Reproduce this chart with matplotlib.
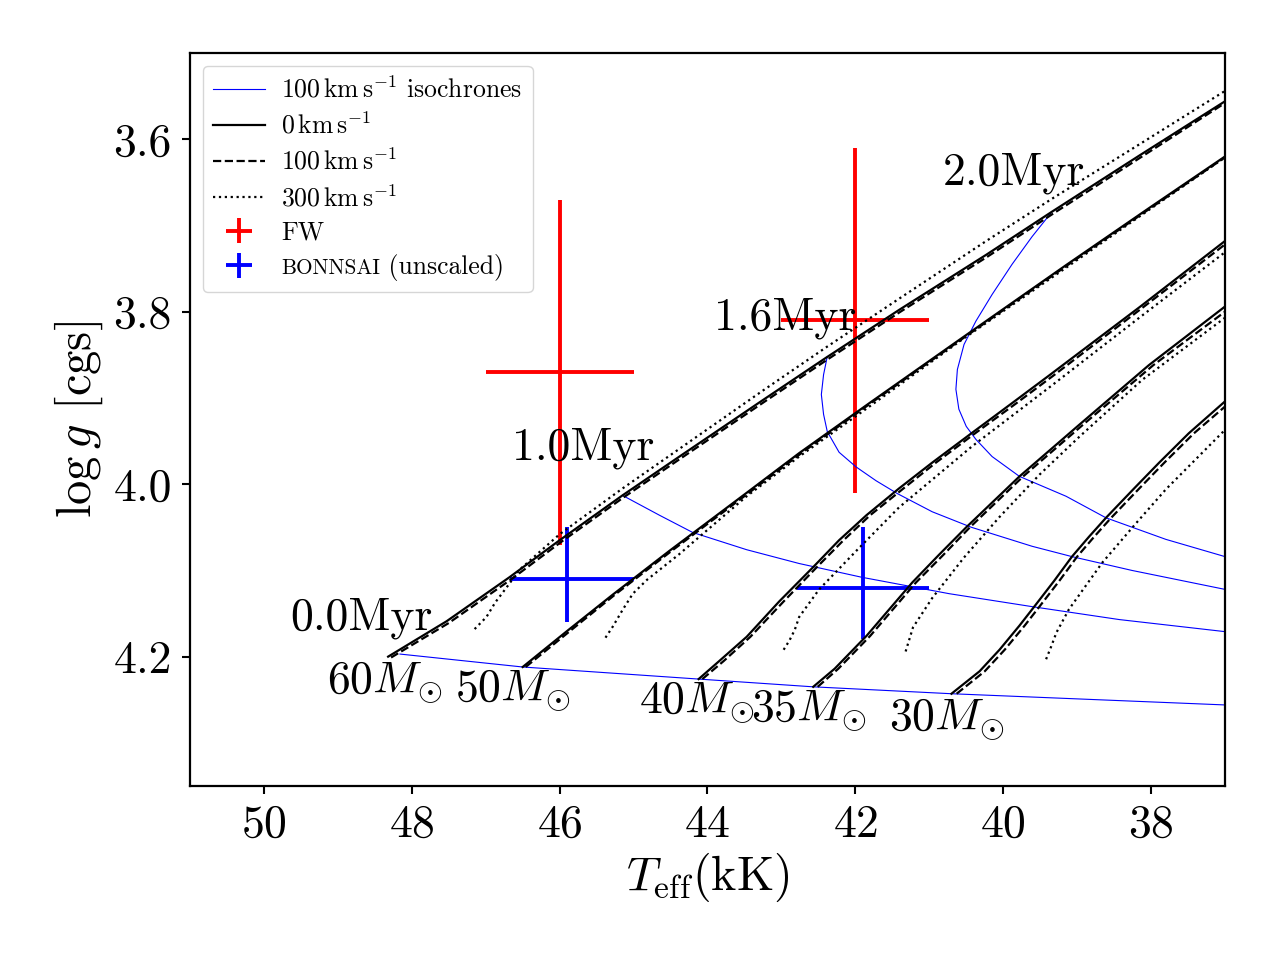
import matplotlib
matplotlib.use("Agg")
import matplotlib.pyplot as plt
from matplotlib.lines import Line2D
from matplotlib.offsetbox import TextArea, HPacker

plt.rcParams['font.family'] = 'serif'
plt.rcParams['font.serif'] = ['cmr10']
plt.rcParams['mathtext.fontset'] = 'cm'
plt.rcParams['axes.formatter.use_mathtext'] = True

# ---------------- data ----------------
# evolutionary tracks (Teff in kK, log g) for 0, 100, 300 km/s
T60_0 = [48.32, 47.53, 46.68, 46.00, 45.15, 44.38, 43.26, 42.39, 41.41, 40.23, 39.34, 38.16, 37.0]
g60_0 = [4.200, 4.159, 4.108, 4.065, 4.013, 3.968, 3.903, 3.853, 3.798, 3.734, 3.684, 3.619, 3.556]
T60_100 = [48.28, 47.50, 46.65, 45.98, 45.13, 44.36, 43.24, 42.37, 41.39, 40.21, 39.32, 38.14, 37.0]
g60_100 = [4.201, 4.161, 4.110, 4.067, 4.015, 3.970, 3.905, 3.855, 3.800, 3.736, 3.686, 3.621, 3.558]
T60_300 = [47.15, 46.99, 46.87, 46.72, 46.54, 46.00, 45.15, 44.38, 43.26, 42.39, 41.41, 40.23, 39.34, 38.16, 37.0]
g60_300 = [4.168, 4.154, 4.137, 4.120, 4.099, 4.058, 4.005, 3.959, 3.892, 3.841, 3.785, 3.718, 3.669, 3.606, 3.544]

T50_0 = [46.50, 45.91, 45.28, 44.51, 43.47, 42.76, 41.81, 40.55, 39.15, 38.03, 37.0]
g50_0 = [4.212, 4.171, 4.128, 4.077, 4.010, 3.964, 3.906, 3.830, 3.746, 3.680, 3.620]
T50_100 = [46.46, 45.87, 45.25, 44.48, 43.44, 42.73, 41.79, 40.53, 39.13, 38.01, 37.0]
g50_100 = [4.212, 4.171, 4.128, 4.077, 4.010, 3.964, 3.906, 3.830, 3.746, 3.680, 3.621]
T50_300 = [45.38, 45.28, 45.15, 45.01, 44.82, 44.38, 44.15, 43.47, 42.76, 41.81, 40.55, 39.15, 38.03, 37.0]
g50_300 = [4.178, 4.165, 4.146, 4.127, 4.111, 4.081, 4.064, 4.014, 3.968, 3.910, 3.832, 3.749, 3.682, 3.621]

T40_0 = [44.12, 43.84, 43.47, 43.03, 42.58, 42.22, 41.85, 41.41, 40.96, 40.43, 39.88, 39.38, 38.16, 37.0]
g40_0 = [4.226, 4.205, 4.177, 4.136, 4.097, 4.065, 4.036, 4.005, 3.975, 3.941, 3.906, 3.874, 3.795, 3.718]
T40_100 = [44.07, 43.78, 43.42, 42.97, 42.53, 42.16, 41.80, 41.35, 40.91, 40.38, 39.82, 39.32, 38.11, 37.0]
g40_100 = [4.226, 4.205, 4.177, 4.136, 4.097, 4.065, 4.036, 4.005, 3.975, 3.941, 3.906, 3.874, 3.795, 3.722]
T40_300 = [42.97, 42.89, 42.82, 42.76, 42.49, 41.95, 41.41, 40.42, 39.38, 38.16, 37.0]
g40_300 = [4.192, 4.181, 4.169, 4.154, 4.122, 4.074, 4.027, 3.956, 3.888, 3.807, 3.731]

T35_0 = [42.57, 42.28, 41.85, 41.54, 41.23, 40.87, 40.50, 39.78, 38.97, 38.03, 37.0]
g35_0 = [4.235, 4.214, 4.176, 4.145, 4.114, 4.082, 4.050, 3.991, 3.931, 3.862, 3.794]
T35_100 = [42.51, 42.23, 41.80, 41.49, 41.18, 40.81, 40.45, 39.73, 38.92, 37.97, 37.0]
g35_100 = [4.235, 4.214, 4.176, 4.145, 4.114, 4.082, 4.050, 3.991, 3.931, 3.862, 3.800]
T35_300 = [41.32, 41.27, 41.22, 40.96, 40.53, 40.05, 39.51, 38.97, 38.12, 37.0]
g35_300 = [4.194, 4.180, 4.166, 4.132, 4.085, 4.038, 3.989, 3.945, 3.879, 3.807]

T30_0 = [40.70, 40.32, 40.05, 39.78, 39.58, 39.31, 39.07, 38.84, 38.61, 38.23, 37.89, 37.49, 37.0]
g30_0 = [4.243, 4.217, 4.192, 4.164, 4.142, 4.112, 4.084, 4.061, 4.039, 4.005, 3.975, 3.941, 3.904]
T30_100 = [40.63, 40.25, 39.98, 39.71, 39.51, 39.24, 39.00, 38.77, 38.54, 38.16, 37.82, 37.42, 37.0]
g30_100 = [4.243, 4.217, 4.192, 4.164, 4.142, 4.112, 4.084, 4.061, 4.039, 4.005, 3.975, 3.941, 3.910]
T30_300 = [39.42, 39.35, 39.28, 39.11, 38.66, 38.20, 37.80, 37.0]
g30_300 = [4.203, 4.188, 4.172, 4.145, 4.091, 4.045, 4.006, 3.937]

# isochrones (100 km/s)
Tiso00 = [48.16, 46.50, 44.12, 42.57, 40.70, 37.0]
giso00 = [4.197, 4.212, 4.226, 4.235, 4.243, 4.256]
Tiso10 = [45.15, 44.65, 44.20, 43.47, 42.76, 41.91, 40.73, 39.61, 38.43, 37.0]
giso10 = [4.013, 4.036, 4.056, 4.076, 4.092, 4.108, 4.127, 4.142, 4.157, 4.171]
Tiso16 = [42.38, 42.43, 42.46, 42.43, 42.38, 42.22, 41.99, 41.72, 41.43, 40.96, 40.43, 39.61, 39.07, 38.26, 37.0]
giso16 = [3.852, 3.873, 3.896, 3.919, 3.939, 3.963, 3.980, 3.996, 4.011, 4.032, 4.050, 4.072, 4.084, 4.100, 4.122]
Tiso20 = [39.34, 39.61, 39.88, 40.15, 40.37, 40.53, 40.62, 40.64, 40.60, 40.50, 40.37, 40.15, 39.78, 39.15, 38.61, 37.80, 37.0]
giso20 = [3.684, 3.713, 3.745, 3.780, 3.811, 3.838, 3.867, 3.890, 3.913, 3.933, 3.948, 3.968, 3.991, 4.014, 4.039, 4.064, 4.084]

# observations
fw_T = [46.0, 42.0]
fw_g = [3.87, 3.81]
fw_Terr = [1.0, 1.0]
fw_gerr = [0.2, 0.2]
bo_T = [45.9, 41.9]
bo_g = [4.11, 4.12]
bo_Terr_lo = [0.9, 0.9]
bo_Terr_hi = [0.77, 0.89]
bo_gerr_lo = [0.06, 0.07]
bo_gerr_hi = [0.05, 0.06]

iso_labels = ["0.0Myr", "1.0Myr", "1.6Myr", "2.0Myr"]
iso_label_T = [49.65, 46.65, 43.91, 40.82]
iso_label_g = [4.168, 3.971, 3.821, 3.653]
mass_labels = [r"$60M_{\odot}$", r"$50M_{\odot}$", r"$40M_{\odot}$", r"$35M_{\odot}$", r"$30M_{\odot}$"]
mass_label_T = [49.15, 47.42, 44.93, 43.41, 41.55]
mass_label_g = [4.242, 4.252, 4.266, 4.275, 4.285]

# ---------------- plot ----------------
fig = plt.figure(figsize=(12.8, 9.6), dpi=100)
ax = fig.add_axes([190/1280, 1-786/960, (1225-190)/1280, (786-53)/960])

lw = 1.6
tracks = [
    (T60_0, g60_0, T60_100, g60_100, T60_300, g60_300),
    (T50_0, g50_0, T50_100, g50_100, T50_300, g50_300),
    (T40_0, g40_0, T40_100, g40_100, T40_300, g40_300),
    (T35_0, g35_0, T35_100, g35_100, T35_300, g35_300),
    (T30_0, g30_0, T30_100, g30_100, T30_300, g30_300),
]
for (a0, b0, a1, b1, a3, b3) in tracks:
    ax.plot(a0, b0, color='black', lw=lw, ls='-', zorder=3)
    ax.plot(a1, b1, color='black', lw=lw, ls='--', zorder=3)
    ax.plot(a3, b3, color='black', lw=lw, ls=':', zorder=3)

for Ti, gi in [(Tiso00, giso00), (Tiso10, giso10), (Tiso16, giso16), (Tiso20, giso20)]:
    ax.plot(Ti, gi, color='blue', lw=0.8, zorder=2.5)

eb1 = ax.errorbar(fw_T, fw_g, xerr=fw_Terr, yerr=fw_gerr, fmt='none',
                  ecolor='red', elinewidth=2.8, capsize=0, zorder=2)
eb2 = ax.errorbar(bo_T, bo_g, xerr=[bo_Terr_lo, bo_Terr_hi],
                  yerr=[bo_gerr_lo, bo_gerr_hi], fmt='none',
                  ecolor='blue', elinewidth=2.8, capsize=0, zorder=2)

fs_ann = 33
for s, x, y in zip(iso_labels, iso_label_T, iso_label_g):
    ax.text(x, y, s, fontsize=fs_ann, ha='left', va='baseline', zorder=4)
for s, x, y in zip(mass_labels, mass_label_T, mass_label_g):
    ax.text(x, y, s, fontsize=fs_ann, ha='left', va='baseline', zorder=4)

ax.set_xlim(51, 37)
ax.set_ylim(4.35, 3.5)
ax.set_xticks([50, 48, 46, 44, 42, 40, 38])
ax.set_yticks([3.6, 3.8, 4.0, 4.2])
ax.set_yticklabels(["3.6", "3.8", "4.0", "4.2"])
ax.tick_params(labelsize=33, length=6, width=1.5, pad=7)
for sp in ax.spines.values():
    sp.set_linewidth(1.6)

ax.set_xlabel(r"$T_{\rm eff}$(kK)", fontsize=34.5, labelpad=4)
ax.set_ylabel(r"$\log g$ [cgs]", fontsize=35, labelpad=6)

handles = [
    Line2D([], [], color='blue', lw=0.8),
    Line2D([], [], color='black', lw=lw, ls='-'),
    Line2D([], [], color='black', lw=lw, ls='--'),
    Line2D([], [], color='black', lw=lw, ls=':'),
    eb1, eb2,
]
labels = [
    r"$100\,\mathrm{km}\,\mathrm{s}^{-1}$ isochrones",
    r"$0\,\mathrm{km}\,\mathrm{s}^{-1}$",
    r"$100\,\mathrm{km}\,\mathrm{s}^{-1}$",
    r"$300\,\mathrm{km}\,\mathrm{s}^{-1}$",
    "FW",
    "BONNSAI (unscaled)",
]
leg_fs = 18.5
leg = ax.legend(handles, labels, loc='upper left', fontsize=leg_fs,
                labelspacing=0.38, handletextpad=0.65)

# emulate small capitals for "BONNSAI"
try:
    target = leg.texts[5]
    done = False
    for col in leg._legend_handle_box.get_children():
        for row in col.get_children():
            ch = row.get_children()
            for i, c in enumerate(ch):
                if isinstance(c, TextArea) and getattr(c, '_text', None) is target:
                    sc = TextArea("BONNSAI", textprops=dict(fontsize=15.3))
                    rest = TextArea(" (unscaled)", textprops=dict(fontsize=leg_fs))
                    newbox = HPacker(children=[sc, rest], pad=0, sep=0, align='baseline')
                    newbox.set_figure(fig)
                    ch[i] = newbox
                    done = True
except Exception:
    pass

fig.savefig("out.png", dpi=100)
